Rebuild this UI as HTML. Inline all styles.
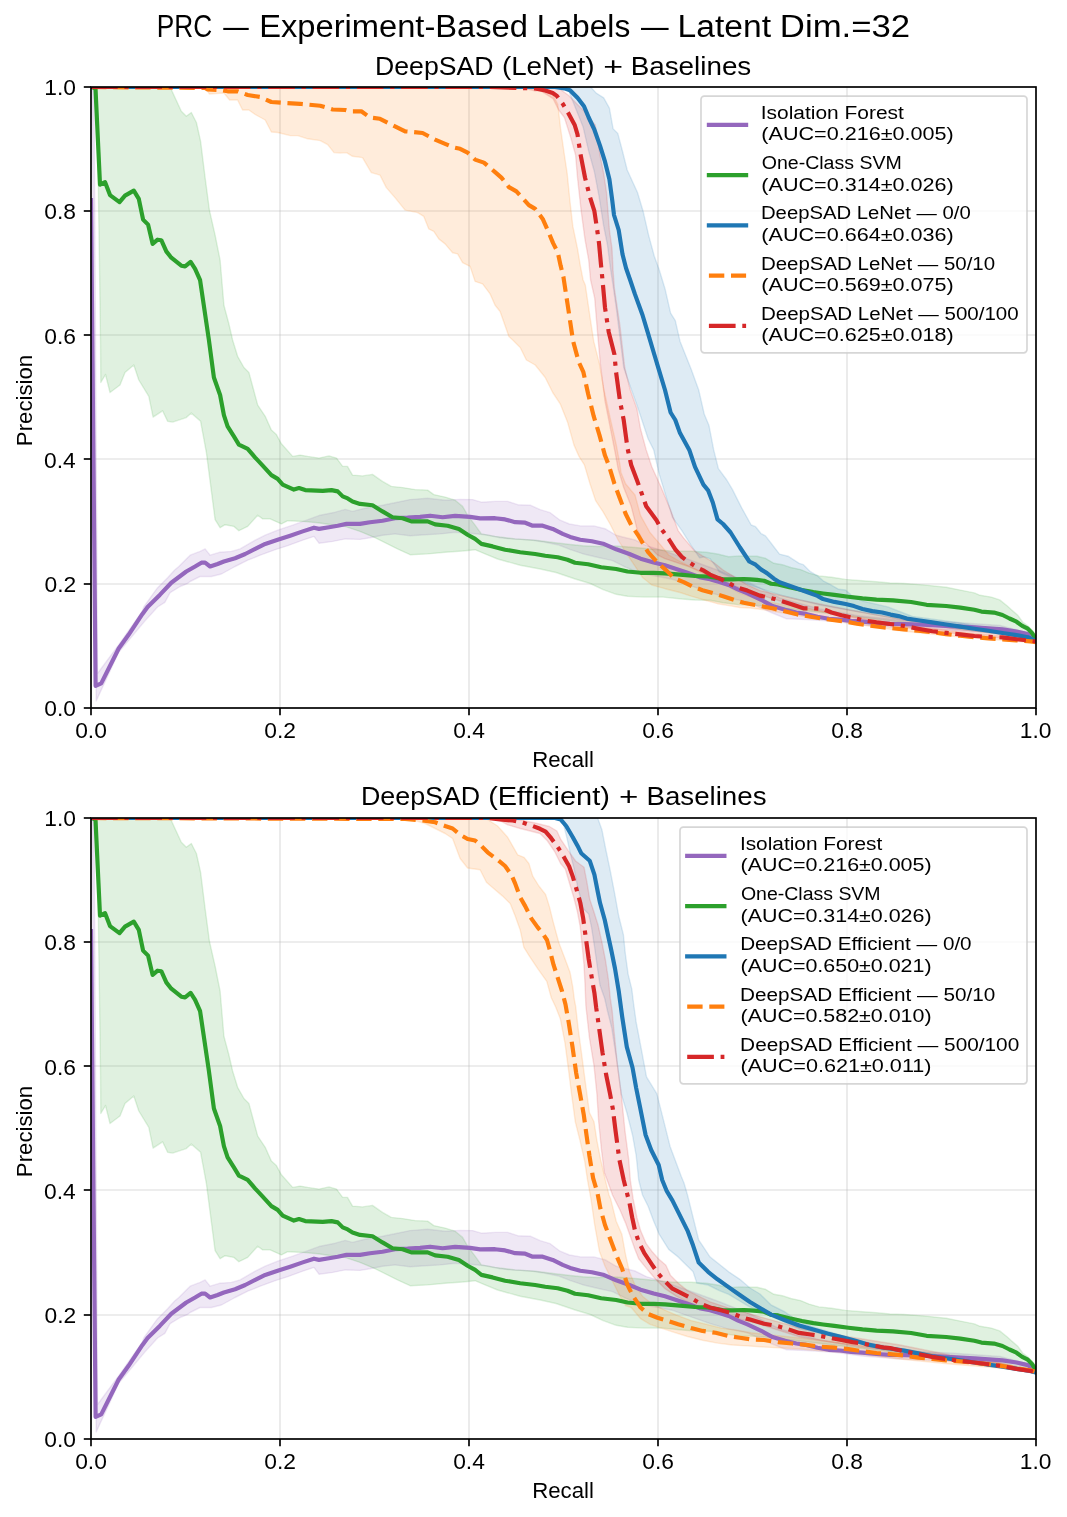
<!DOCTYPE html>
<html><head><meta charset="utf-8"><title>PRC</title>
<style>html,body{margin:0;padding:0;background:#fff;}svg{display:block;will-change:transform;}</style>
</head><body>
<svg width="1067" height="1517" viewBox="0 0 1067 1517" font-family='"Liberation Sans", sans-serif' fill="#000">
<text x="156.80" y="36.90" font-size="31" textLength="55.35" lengthAdjust="spacingAndGlyphs">PRC</text>
<text x="223.20" y="36.90" font-size="31" textLength="25.50" lengthAdjust="spacingAndGlyphs">—</text>
<text x="259.19" y="36.90" font-size="31" textLength="268.78" lengthAdjust="spacingAndGlyphs">Experiment-Based</text>
<text x="536.86" y="36.90" font-size="31" textLength="93.40" lengthAdjust="spacingAndGlyphs">Labels</text>
<text x="640.90" y="36.90" font-size="31" textLength="27.60" lengthAdjust="spacingAndGlyphs">—</text>
<text x="677.61" y="36.90" font-size="31" textLength="93.36" lengthAdjust="spacingAndGlyphs">Latent</text>
<text x="779.82" y="36.90" font-size="31" textLength="130.37" lengthAdjust="spacingAndGlyphs">Dim.=32</text>
<text x="375.07" y="74.80" font-size="25" textLength="118.48" lengthAdjust="spacingAndGlyphs">DeepSAD</text>
<text x="501.93" y="74.80" font-size="25" textLength="92.56" lengthAdjust="spacingAndGlyphs">(LeNet)</text>
<text x="603.30" y="74.80" font-size="25" textLength="19.87" lengthAdjust="spacingAndGlyphs">+</text>
<text x="630.67" y="74.80" font-size="25" textLength="120.63" lengthAdjust="spacingAndGlyphs">Baselines</text>
<text x="360.95" y="804.80" font-size="25" textLength="119.31" lengthAdjust="spacingAndGlyphs">DeepSAD</text>
<text x="488.16" y="804.80" font-size="25" textLength="121.73" lengthAdjust="spacingAndGlyphs">(Efficient)</text>
<text x="619.14" y="804.80" font-size="25" textLength="19.39" lengthAdjust="spacingAndGlyphs">+</text>
<text x="646.49" y="804.80" font-size="25" textLength="120.01" lengthAdjust="spacingAndGlyphs">Baselines</text>
<clipPath id="clip0"><rect x="91.0" y="87.0" width="945.0" height="621.0"/></clipPath>
<g stroke="#b0b0b0" stroke-opacity="0.3" stroke-width="1.67"><line x1="91.00" y1="87.0" x2="91.00" y2="708.0"/><line x1="91.0" y1="708.00" x2="1036.0" y2="708.00"/><line x1="280.00" y1="87.0" x2="280.00" y2="708.0"/><line x1="91.0" y1="584.00" x2="1036.0" y2="584.00"/><line x1="469.00" y1="87.0" x2="469.00" y2="708.0"/><line x1="91.0" y1="459.00" x2="1036.0" y2="459.00"/><line x1="658.00" y1="87.0" x2="658.00" y2="708.0"/><line x1="91.0" y1="335.00" x2="1036.0" y2="335.00"/><line x1="847.00" y1="87.0" x2="847.00" y2="708.0"/><line x1="91.0" y1="211.00" x2="1036.0" y2="211.00"/><line x1="1036.00" y1="87.0" x2="1036.00" y2="708.0"/><line x1="91.0" y1="87.00" x2="1036.0" y2="87.00"/></g>
<g clip-path="url(#clip0)">
<path d="M91.0,87.0 L94.0,87.0 L97.5,673.5 L118.7,644.8 L142.3,611.1 L143.8,607.0 L153.6,593.1 L157.6,587.7 L167.6,577.7 L174.7,570.0 L178.8,566.5 L190.1,555.2 L200.1,551.4 L205.1,548.9 L210.1,555.2 L220.1,552.2 L231.4,551.4 L240.1,548.9 L255.2,540.2 L265.2,535.2 L277.7,530.2 L292.7,525.2 L305.2,520.7 L320.2,515.2 L335.2,512.2 L345.2,509.4 L352.5,511.4 L365.0,508.2 L382.5,505.2 L395.0,502.7 L410.1,499.6 L427.6,498.2 L445.1,500.2 L460.1,499.4 L472.6,499.6 L481.4,502.2 L495.1,501.4 L507.7,501.4 L517.7,504.7 L530.2,505.2 L540.2,509.7 L550.2,512.7 L560.1,520.2 L569.4,524.0 L580.6,525.9 L593.7,525.9 L605.0,528.7 L616.2,535.3 L623.7,537.2 L635.0,540.0 L646.2,545.6 L665.0,551.2 L690.0,560.0 L720.0,571.0 L750.0,583.0 L780.0,598.0 L820.0,609.0 L860.0,616.0 L900.0,620.0 L950.0,622.0 L1000.0,625.5 L1036.0,635.0 L1036.0,641.0 L1000.0,633.0 L950.0,630.0 L900.0,628.0 L862.5,625.0 L834.4,621.2 L806.2,619.5 L786.6,618.8 L771.1,612.5 L747.4,601.8 L728.7,598.1 L710.0,592.5 L691.2,585.9 L672.5,579.3 L657.5,576.5 L642.5,573.7 L625.6,567.2 L612.5,560.6 L596.3,557.0 L582.6,553.7 L569.8,549.3 L558.8,545.0 L545.2,542.2 L532.7,540.2 L520.2,539.4 L510.2,538.9 L500.1,537.7 L485.1,534.7 L470.1,533.2 L455.1,532.2 L440.1,533.9 L425.1,534.7 L410.1,535.7 L395.0,533.9 L382.5,535.2 L370.0,537.7 L360.0,539.4 L345.2,538.9 L332.7,541.4 L319.0,543.2 L314.0,536.4 L302.7,540.2 L287.7,545.7 L275.2,549.7 L260.2,555.2 L247.7,560.2 L235.1,566.5 L221.4,574.0 L211.4,576.5 L200.1,576.5 L190.1,581.5 L187.2,583.7 L180.1,586.5 L170.1,592.7 L164.8,602.4 L157.6,607.0 L144.8,621.1 L118.7,652.3 L96.2,700.9 L92.0,87.0 L91.0,87.0 Z" fill="#9467bd" fill-opacity="0.15" stroke="#9467bd" stroke-opacity="0.15" stroke-width="1.4" stroke-linejoin="round"/>
<path d="M91.0,87.0 L170.1,87.0 L181.3,111.3 L186.3,116.3 L191.3,112.5 L196.4,122.5 L200.6,141.3 L205.1,177.6 L209.4,210.1 L215.1,235.1 L220.1,260.2 L223.9,305.2 L228.9,324.0 L232.6,340.0 L237.6,356.3 L243.9,367.5 L248.9,372.5 L257.7,405.1 L265.2,416.3 L271.4,430.1 L276.4,434.6 L281.4,443.8 L292.7,456.4 L300.2,455.1 L307.7,456.4 L319.0,458.1 L329.0,455.9 L336.5,458.1 L342.7,466.4 L347.5,466.4 L352.5,475.1 L362.5,475.9 L372.5,474.4 L382.5,481.4 L391.3,486.4 L402.6,487.6 L415.1,489.6 L427.6,490.1 L433.8,494.6 L445.1,497.1 L455.1,500.2 L462.6,506.4 L467.6,515.2 L475.1,525.2 L481.4,533.9 L495.1,536.4 L515.2,538.9 L535.2,540.2 L555.2,542.7 L570.2,544.5 L582.7,545.8 L597.5,546.5 L616.2,546.0 L635.0,547.5 L653.7,549.3 L672.5,551.2 L691.2,551.2 L706.2,552.2 L717.5,554.0 L728.7,556.8 L739.9,555.9 L750.0,556.2 L757.0,556.2 L765.5,558.3 L773.9,563.3 L782.3,564.7 L790.8,567.5 L800.6,569.6 L809.0,573.1 L818.9,575.9 L831.5,577.3 L845.6,579.4 L862.5,580.8 L876.5,581.8 L890.0,583.0 L904.1,583.5 L925.1,585.1 L946.2,587.3 L960.3,590.1 L974.4,592.9 L980.0,595.3 L991.2,597.1 L999.7,599.9 L1006.7,605.5 L1012.3,610.5 L1017.9,615.4 L1022.9,622.4 L1027.8,625.9 L1032.0,630.1 L1036.0,637.0 L1036.0,641.0 L1000.0,634.0 L950.0,628.0 L900.0,622.0 L850.0,616.0 L800.0,610.0 L760.0,605.6 L738.1,604.6 L723.1,602.8 L710.0,600.3 L695.0,600.0 L681.8,599.0 L663.1,597.1 L644.3,597.1 L627.5,596.2 L616.2,594.3 L603.1,589.6 L590.2,583.5 L575.2,579.0 L556.0,572.5 L540.2,569.0 L520.2,565.2 L497.6,559.0 L485.1,553.9 L475.1,549.7 L462.6,551.0 L445.1,552.2 L427.6,553.9 L410.1,554.7 L397.5,548.9 L387.5,543.9 L375.0,537.7 L360.0,531.4 L345.0,526.4 L335.2,525.2 L317.7,522.7 L302.7,521.4 L287.7,520.7 L281.4,523.9 L270.2,518.9 L262.7,518.9 L257.7,515.2 L247.7,526.4 L238.9,530.7 L233.9,526.4 L225.1,524.7 L220.1,527.7 L215.1,519.7 L206.4,452.6 L200.6,421.3 L191.3,413.1 L186.3,417.6 L172.6,422.1 L167.6,421.3 L162.6,410.8 L153.1,417.1 L148.8,396.3 L138.8,380.0 L133.8,365.0 L125.0,372.5 L120.0,385.0 L110.0,392.5 L105.5,374.5 L100.8,382.5 L100.5,340.0 L97.0,88.0 L91.0,87.0 Z" fill="#2ca02c" fill-opacity="0.15" stroke="#2ca02c" stroke-opacity="0.15" stroke-width="1.4" stroke-linejoin="round"/>
<path d="M91.0,87.0 L590.6,87.0 L596.2,93.1 L603.7,97.8 L609.4,108.1 L613.1,128.7 L617.8,133.4 L622.5,151.2 L627.2,170.0 L637.5,192.5 L643.1,211.2 L648.7,235.6 L654.3,256.2 L659.3,270.0 L665.0,288.7 L670.6,313.1 L675.3,320.6 L680.0,341.2 L691.2,369.3 L698.7,390.0 L704.3,414.3 L709.0,425.6 L713.7,449.9 L718.4,468.7 L726.8,480.0 L732.4,489.4 L741.8,508.1 L751.2,525.0 L755.6,526.7 L761.2,533.7 L765.5,535.9 L772.5,545.0 L779.5,554.1 L788.0,556.2 L799.2,563.3 L803.4,564.7 L810.5,571.7 L817.5,575.9 L823.1,580.8 L830.1,584.4 L838.6,589.3 L845.6,590.0 L851.2,595.0 L862.5,601.0 L887.8,606.9 L912.5,616.5 L935.0,619.5 L960.0,623.0 L1000.0,630.0 L1036.0,639.0 L1036.0,643.0 L1000.0,633.0 L950.0,626.0 L900.0,619.0 L860.0,612.0 L820.0,605.0 L780.0,595.0 L750.0,585.0 L725.0,574.6 L719.3,571.8 L715.6,566.2 L710.0,558.7 L704.3,556.8 L699.6,557.8 L691.2,545.6 L681.8,530.6 L672.5,517.5 L665.0,493.1 L659.3,474.4 L653.7,449.9 L648.1,438.7 L636.9,405.0 L627.5,378.7 L623.7,367.5 L616.2,307.5 L613.0,285.0 L610.3,267.4 L607.5,245.0 L603.7,226.2 L599.0,196.2 L594.4,171.8 L588.7,151.2 L583.1,126.9 L568.1,89.4 L555.0,87.0 L91.0,87.0 Z" fill="#1f77b4" fill-opacity="0.15" stroke="#1f77b4" stroke-opacity="0.15" stroke-width="1.4" stroke-linejoin="round"/>
<path d="M91.0,87.0 L525.2,87.0 L545.2,90.0 L553.0,95.0 L557.8,104.4 L560.6,128.7 L564.4,155.0 L567.2,173.7 L570.0,201.8 L572.8,226.2 L577.5,248.7 L580.3,265.6 L583.1,280.0 L585.3,285.0 L590.0,316.9 L593.7,341.2 L599.4,363.7 L604.0,390.0 L610.6,420.0 L616.2,444.3 L620.0,464.9 L621.0,472.5 L625.6,483.7 L635.0,495.0 L640.6,515.6 L650.0,532.5 L661.2,545.6 L668.7,555.0 L681.8,562.5 L700.6,571.8 L719.3,581.2 L738.1,592.5 L760.0,600.0 L800.0,608.0 L850.0,616.0 L900.0,624.0 L950.0,631.0 L1000.0,636.0 L1036.0,641.0 L1036.0,643.0 L1000.0,640.0 L950.0,636.0 L900.0,630.7 L850.0,623.0 L800.0,616.0 L764.1,609.7 L750.0,608.0 L739.9,607.5 L728.7,605.6 L717.5,603.7 L704.3,600.0 L691.2,596.2 L680.0,592.5 L665.0,588.7 L651.8,585.0 L642.5,577.5 L635.0,566.2 L627.5,555.0 L618.1,540.0 L610.6,525.0 L603.1,511.9 L595.6,500.6 L590.0,483.7 L584.4,464.9 L579.0,456.4 L574.0,445.1 L567.7,422.6 L560.2,403.8 L552.7,392.5 L545.2,377.5 L535.2,365.0 L526.4,360.0 L520.2,347.5 L512.7,340.0 L508.9,336.5 L500.1,311.5 L495.1,305.2 L490.1,293.9 L482.6,283.9 L475.1,281.4 L470.1,266.4 L462.6,262.7 L457.6,253.9 L452.6,252.7 L445.1,243.9 L438.8,238.9 L433.8,231.4 L428.8,228.9 L423.8,216.4 L417.6,212.6 L405.1,210.1 L395.0,197.6 L386.3,187.6 L380.0,175.1 L371.3,172.6 L362.5,157.6 L352.5,156.3 L346.5,152.6 L340.2,153.1 L334.0,152.6 L327.7,144.6 L320.2,140.6 L307.7,138.8 L297.7,135.6 L290.2,135.6 L277.7,132.5 L271.4,132.0 L265.2,120.0 L255.2,114.5 L248.9,110.0 L242.6,110.0 L237.6,100.0 L229.6,100.0 L223.9,93.0 L209.3,94.0 L205.1,87.0 L91.0,87.0 Z" fill="#ff7f0e" fill-opacity="0.15" stroke="#ff7f0e" stroke-opacity="0.15" stroke-width="1.4" stroke-linejoin="round"/>
<path d="M91.0,87.0 L556.9,87.0 L568.1,95.0 L577.5,104.4 L585.0,111.9 L590.6,119.4 L595.3,125.0 L600.0,155.0 L603.7,173.7 L606.5,192.5 L609.4,230.0 L612.0,248.7 L613.0,270.0 L614.4,288.7 L620.0,326.2 L624.7,367.5 L630.3,390.0 L636.9,408.7 L640.6,429.3 L646.2,449.9 L651.8,466.8 L661.2,487.5 L670.6,510.0 L678.1,530.6 L683.7,538.1 L695.0,551.2 L702.5,555.9 L713.7,562.5 L723.1,570.0 L732.4,575.6 L747.4,585.0 L760.0,590.6 L800.0,600.0 L850.0,610.0 L900.0,619.0 L950.0,628.0 L1000.0,634.0 L1036.0,640.0 L1036.0,642.0 L1000.0,638.0 L950.0,633.0 L900.0,626.0 L850.0,617.0 L800.0,607.0 L750.0,592.0 L720.0,580.0 L690.0,567.0 L665.0,558.7 L657.5,555.0 L650.0,547.5 L642.5,540.0 L636.9,528.7 L631.2,506.2 L623.7,487.5 L618.1,468.7 L615.0,451.8 L610.6,429.3 L605.0,401.2 L600.3,363.7 L597.5,331.9 L594.7,298.1 L590.6,280.0 L588.7,259.9 L585.0,239.3 L581.2,211.2 L577.5,177.5 L575.6,155.0 L570.9,138.1 L564.4,117.5 L558.7,110.0 L553.1,98.7 L540.0,90.3 L535.2,91.0 L520.2,87.0 L91.0,87.0 Z" fill="#d62728" fill-opacity="0.15" stroke="#d62728" stroke-opacity="0.15" stroke-width="1.4" stroke-linejoin="round"/>
<path d="M91.0,200.0 L95.6,685.9 L101.2,683.4 L118.7,648.5 L128.6,634.8 L142.3,614.2 L147.6,607.0 L159.8,594.9 L171.3,582.7 L176.3,579.0 L186.3,571.5 L195.1,566.5 L201.4,562.7 L205.1,562.7 L210.1,566.5 L217.6,564.0 L223.9,561.5 L235.1,558.2 L245.2,554.0 L255.2,548.9 L265.2,543.9 L277.7,539.7 L290.2,535.7 L302.7,531.4 L314.0,527.7 L319.0,528.9 L329.0,527.2 L337.7,525.7 L346.5,523.9 L360.0,523.9 L370.0,522.2 L382.5,520.7 L395.0,518.2 L407.6,517.7 L420.1,516.9 L430.1,515.7 L442.6,517.2 L455.1,515.9 L470.1,516.9 L480.1,518.4 L495.1,518.2 L505.1,519.4 L515.2,522.2 L525.2,522.7 L532.7,525.7 L542.7,525.7 L552.7,528.9 L562.7,533.9 L570.2,536.9 L580.2,539.7 L591.9,541.3 L603.1,543.7 L616.2,549.3 L629.4,554.0 L640.6,558.7 L653.7,562.5 L665.0,565.3 L676.2,569.0 L687.5,572.8 L700.6,577.5 L710.0,579.3 L719.3,582.1 L728.7,585.0 L738.1,589.6 L747.4,593.4 L761.2,599.8 L772.5,606.1 L785.1,609.7 L796.4,612.5 L806.2,613.9 L817.5,616.7 L828.7,618.8 L840.0,619.5 L851.2,620.9 L862.5,621.6 L876.5,623.0 L890.0,623.8 L904.1,624.2 L918.1,624.5 L932.2,625.2 L946.2,625.9 L960.3,626.6 L974.4,627.3 L988.4,628.4 L1002.5,629.4 L1016.5,631.5 L1027.8,634.1 L1036.0,639.0" fill="none" stroke="#9467bd" stroke-width="4.17" stroke-linejoin="round" stroke-linecap="square"/>
<path d="M92.0,87.0 L95.5,88.8 L100.0,184.6 L105.0,182.1 L110.0,195.1 L119.5,202.1 L125.0,195.6 L133.8,190.6 L138.8,198.9 L143.1,219.6 L148.1,224.6 L152.6,243.9 L157.6,239.7 L161.3,240.2 L166.3,251.4 L171.3,257.7 L181.3,265.7 L185.1,266.4 L190.6,261.9 L195.1,268.9 L200.1,280.2 L208.9,340.0 L213.9,377.5 L220.1,395.0 L223.9,415.1 L227.6,426.3 L233.9,436.3 L238.9,444.6 L247.7,448.9 L255.2,457.6 L262.7,465.6 L271.4,475.1 L277.7,478.9 L282.7,484.6 L293.9,489.6 L299.0,488.1 L305.2,490.1 L322.7,490.9 L331.5,490.1 L337.7,491.4 L342.7,496.4 L347.7,498.4 L352.5,501.4 L360.0,503.9 L372.5,505.2 L382.5,511.4 L392.5,517.2 L402.6,518.2 L411.3,521.4 L427.6,521.4 L435.1,524.4 L447.6,525.7 L458.9,528.9 L467.6,534.7 L475.1,538.9 L481.4,543.9 L492.6,546.4 L505.1,549.7 L520.2,552.2 L535.2,554.0 L545.2,555.7 L557.7,557.2 L567.5,559.7 L575.0,562.8 L588.1,564.3 L601.2,567.2 L616.2,569.0 L627.5,571.5 L640.6,572.8 L653.7,572.8 L665.0,573.3 L680.0,574.6 L695.0,576.0 L708.1,576.5 L715.6,577.8 L723.1,579.3 L732.4,579.3 L743.7,579.0 L750.0,579.4 L757.0,579.9 L764.1,580.8 L771.1,583.7 L778.1,584.4 L789.4,587.2 L802.0,590.0 L813.3,592.1 L823.1,593.5 L834.4,594.9 L848.4,596.7 L862.5,598.4 L876.5,599.6 L893.0,600.4 L911.1,602.0 L926.6,604.8 L946.2,606.0 L960.3,607.6 L974.4,609.8 L981.4,611.6 L994.0,612.6 L1002.5,615.0 L1009.5,618.5 L1016.5,621.7 L1022.2,625.9 L1027.8,628.7 L1032.0,632.9 L1036.0,639.5" fill="none" stroke="#2ca02c" stroke-width="4.17" stroke-linejoin="round" stroke-linecap="square"/>
<path d="M91.0,87.0 L555.0,87.0 L564.4,88.4 L570.0,90.3 L577.5,97.8 L584.0,106.2 L588.7,117.5 L594.4,129.7 L600.0,145.6 L604.7,160.6 L609.4,179.3 L612.2,200.0 L614.0,215.0 L618.7,230.0 L622.5,254.3 L626.0,268.0 L630.5,281.0 L635.0,294.4 L642.5,315.0 L648.1,333.7 L653.7,352.5 L659.3,371.2 L665.0,390.0 L670.6,412.5 L675.3,420.0 L680.0,433.1 L689.3,449.9 L695.0,466.9 L703.4,484.7 L708.1,490.3 L712.8,502.5 L717.5,519.4 L723.1,524.0 L730.6,532.5 L740.0,547.5 L749.3,561.5 L755.6,564.7 L761.2,569.6 L766.9,573.1 L773.9,578.7 L779.5,582.2 L789.4,585.8 L799.2,589.3 L809.0,592.8 L817.5,595.9 L823.1,599.1 L834.4,601.9 L845.6,604.0 L854.0,606.1 L862.5,609.0 L872.3,611.1 L882.2,612.5 L890.6,614.6 L898.4,616.1 L906.9,618.6 L918.1,620.3 L932.2,622.4 L946.2,624.5 L960.3,626.6 L974.4,628.7 L988.4,630.8 L1002.5,633.0 L1016.5,635.1 L1027.8,637.2 L1036.0,641.0" fill="none" stroke="#1f77b4" stroke-width="4.17" stroke-linejoin="round" stroke-linecap="square"/>
<path d="M91.0,87.0 L205.1,88.0 L207.6,89.5 L220.1,90.0 L227.6,91.3 L237.6,91.3 L247.7,95.0 L260.2,97.0 L271.4,102.0 L285.2,103.0 L300.2,103.8 L320.2,105.8 L332.7,109.5 L345.2,110.0 L350.0,111.3 L361.3,111.3 L370.0,117.5 L380.0,118.8 L395.0,126.3 L405.1,131.3 L422.6,133.0 L435.1,139.6 L445.1,143.8 L452.6,147.1 L460.1,148.8 L467.6,152.6 L475.1,159.6 L483.9,162.6 L495.1,172.1 L501.4,177.6 L508.9,187.1 L516.4,191.4 L528.9,205.1 L535.2,208.9 L542.7,218.9 L547.7,230.1 L553.1,243.1 L557.8,252.4 L560.6,265.6 L563.4,276.8 L567.5,303.7 L573.1,341.2 L578.7,361.8 L583.4,372.2 L588.1,393.7 L593.7,416.2 L599.4,434.9 L605.0,455.6 L608.7,465.0 L614.4,483.7 L620.0,498.7 L625.6,513.7 L631.2,525.0 L638.7,536.2 L648.1,552.2 L657.5,562.5 L666.8,570.9 L674.3,578.4 L683.7,582.1 L693.1,586.8 L702.5,590.2 L713.7,593.4 L723.1,596.2 L734.3,600.0 L743.7,602.8 L750.0,604.0 L761.2,606.1 L772.5,608.3 L783.7,611.1 L797.8,614.6 L810.5,616.7 L823.1,618.8 L834.4,620.2 L845.6,621.6 L856.8,623.7 L869.5,625.5 L882.2,627.2 L890.0,628.0 L904.1,629.4 L918.1,630.8 L932.2,632.2 L946.2,634.1 L960.3,635.8 L974.4,637.2 L988.4,638.3 L1002.5,639.3 L1016.5,640.3 L1030.6,641.4 L1036.0,642.1" fill="none" stroke="#ff7f0e" stroke-width="4.17" stroke-linejoin="round" stroke-linecap="butt" stroke-dasharray="15.4 6.7"/>
<path d="M91.0,87.0 L490.0,87.0 L535.2,88.5 L545.2,90.5 L552.7,93.0 L556.9,95.9 L562.5,103.4 L568.1,112.8 L574.7,125.0 L577.5,134.4 L580.3,153.1 L585.0,177.5 L589.7,196.2 L594.4,211.2 L597.2,230.0 L599.0,243.1 L600.9,263.7 L602.5,280.0 L605.0,307.5 L608.7,331.9 L614.4,354.3 L616.2,373.1 L620.0,401.2 L623.7,420.0 L627.5,448.1 L631.2,465.0 L636.9,480.0 L640.6,490.3 L646.2,506.2 L656.5,520.3 L661.2,528.7 L668.7,539.0 L675.3,549.3 L681.8,556.8 L689.3,562.5 L696.8,567.2 L704.3,570.9 L710.0,574.6 L719.3,578.4 L728.7,583.1 L738.1,587.8 L747.4,590.6 L759.8,595.6 L769.7,597.7 L779.5,600.5 L790.8,604.0 L803.4,608.3 L813.3,608.3 L823.1,609.0 L831.5,612.5 L841.4,615.3 L851.2,617.4 L862.5,620.2 L876.5,622.3 L887.8,623.7 L904.1,625.9 L918.1,628.7 L932.2,631.3 L946.2,632.9 L960.3,634.4 L974.4,636.0 L988.4,636.9 L1002.5,637.4 L1016.5,639.3 L1030.6,640.7 L1036.0,641.5" fill="none" stroke="#d62728" stroke-width="4.17" stroke-linejoin="round" stroke-linecap="butt" stroke-dasharray="26.7 6.7 4.2 6.7"/>
</g>
<rect x="91.0" y="87.0" width="945.0" height="621.0" fill="none" stroke="#000" stroke-width="1.67" stroke-linejoin="miter"/>
<g stroke="#000" stroke-width="1.67"><line x1="91.00" y1="708.0" x2="91.00" y2="715.2"/><line x1="83.8" y1="708.00" x2="91.0" y2="708.00"/><line x1="280.00" y1="708.0" x2="280.00" y2="715.2"/><line x1="83.8" y1="584.00" x2="91.0" y2="584.00"/><line x1="469.00" y1="708.0" x2="469.00" y2="715.2"/><line x1="83.8" y1="459.00" x2="91.0" y2="459.00"/><line x1="658.00" y1="708.0" x2="658.00" y2="715.2"/><line x1="83.8" y1="335.00" x2="91.0" y2="335.00"/><line x1="847.00" y1="708.0" x2="847.00" y2="715.2"/><line x1="83.8" y1="211.00" x2="91.0" y2="211.00"/><line x1="1036.00" y1="708.0" x2="1036.00" y2="715.2"/><line x1="83.8" y1="87.00" x2="91.0" y2="87.00"/></g>
<text x="75.20" y="738.20" font-size="22.8" textLength="31.70" lengthAdjust="spacingAndGlyphs">0.0</text>
<text x="44.21" y="716.10" font-size="22.8" textLength="31.70" lengthAdjust="spacingAndGlyphs">0.0</text>
<text x="264.37" y="738.20" font-size="22.8" textLength="31.70" lengthAdjust="spacingAndGlyphs">0.2</text>
<text x="44.55" y="591.90" font-size="22.8" textLength="31.70" lengthAdjust="spacingAndGlyphs">0.2</text>
<text x="453.14" y="738.20" font-size="22.8" textLength="31.70" lengthAdjust="spacingAndGlyphs">0.4</text>
<text x="44.09" y="467.70" font-size="22.8" textLength="31.70" lengthAdjust="spacingAndGlyphs">0.4</text>
<text x="642.25" y="738.20" font-size="22.8" textLength="31.70" lengthAdjust="spacingAndGlyphs">0.6</text>
<text x="44.32" y="343.50" font-size="22.8" textLength="31.70" lengthAdjust="spacingAndGlyphs">0.6</text>
<text x="831.25" y="738.20" font-size="22.8" textLength="31.70" lengthAdjust="spacingAndGlyphs">0.8</text>
<text x="44.32" y="219.30" font-size="22.8" textLength="31.70" lengthAdjust="spacingAndGlyphs">0.8</text>
<text x="1019.80" y="738.20" font-size="22.8" textLength="31.70" lengthAdjust="spacingAndGlyphs">1.0</text>
<text x="44.21" y="95.10" font-size="22.8" textLength="31.70" lengthAdjust="spacingAndGlyphs">1.0</text>
<text x="563.0" y="767.0" font-size="22.2" text-anchor="middle">Recall</text>
<text x="0" y="0" font-size="22.2" text-anchor="middle" transform="translate(31.8 400.5) rotate(-90)">Precision</text>
<clipPath id="clip1"><rect x="91.0" y="818.0" width="945.0" height="621.0"/></clipPath>
<g stroke="#b0b0b0" stroke-opacity="0.3" stroke-width="1.67"><line x1="91.00" y1="818.0" x2="91.00" y2="1439.0"/><line x1="91.0" y1="1439.00" x2="1036.0" y2="1439.00"/><line x1="280.00" y1="818.0" x2="280.00" y2="1439.0"/><line x1="91.0" y1="1315.00" x2="1036.0" y2="1315.00"/><line x1="469.00" y1="818.0" x2="469.00" y2="1439.0"/><line x1="91.0" y1="1190.00" x2="1036.0" y2="1190.00"/><line x1="658.00" y1="818.0" x2="658.00" y2="1439.0"/><line x1="91.0" y1="1066.00" x2="1036.0" y2="1066.00"/><line x1="847.00" y1="818.0" x2="847.00" y2="1439.0"/><line x1="91.0" y1="942.00" x2="1036.0" y2="942.00"/><line x1="1036.00" y1="818.0" x2="1036.00" y2="1439.0"/><line x1="91.0" y1="818.00" x2="1036.0" y2="818.00"/></g>
<g clip-path="url(#clip1)">
<path d="M91.0,818.0 L94.0,818.0 L97.5,1404.5 L118.7,1375.8 L142.3,1342.1 L143.8,1338.0 L153.6,1324.1 L157.6,1318.7 L167.6,1308.7 L174.7,1301.0 L178.8,1297.5 L190.1,1286.2 L200.1,1282.4 L205.1,1279.9 L210.1,1286.2 L220.1,1283.2 L231.4,1282.4 L240.1,1279.9 L255.2,1271.2 L265.2,1266.2 L277.7,1261.2 L292.7,1256.2 L305.2,1251.7 L320.2,1246.2 L335.2,1243.2 L345.2,1240.4 L352.5,1242.4 L365.0,1239.2 L382.5,1236.2 L395.0,1233.7 L410.1,1230.6 L427.6,1229.2 L445.1,1231.2 L460.1,1230.4 L472.6,1230.6 L481.4,1233.2 L495.1,1232.4 L507.7,1232.4 L517.7,1235.7 L530.2,1236.2 L540.2,1240.7 L550.2,1243.7 L560.1,1251.2 L569.4,1255.0 L580.6,1256.9 L593.7,1256.9 L605.0,1259.7 L616.2,1266.3 L623.7,1268.2 L635.0,1271.0 L646.2,1276.6 L665.0,1282.2 L690.0,1291.0 L720.0,1302.0 L750.0,1314.0 L780.0,1329.0 L820.0,1340.0 L860.0,1347.0 L900.0,1351.0 L950.0,1353.0 L1000.0,1356.5 L1036.0,1366.0 L1036.0,1372.0 L1000.0,1364.0 L950.0,1361.0 L900.0,1359.0 L862.5,1356.0 L834.4,1352.2 L806.2,1350.5 L786.6,1349.8 L771.1,1343.5 L747.4,1332.8 L728.7,1329.1 L710.0,1323.5 L691.2,1316.9 L672.5,1310.3 L657.5,1307.5 L642.5,1304.7 L625.6,1298.2 L612.5,1291.6 L596.3,1288.0 L582.6,1284.7 L569.8,1280.3 L558.8,1276.0 L545.2,1273.2 L532.7,1271.2 L520.2,1270.4 L510.2,1269.9 L500.1,1268.7 L485.1,1265.7 L470.1,1264.2 L455.1,1263.2 L440.1,1264.9 L425.1,1265.7 L410.1,1266.7 L395.0,1264.9 L382.5,1266.2 L370.0,1268.7 L360.0,1270.4 L345.2,1269.9 L332.7,1272.4 L319.0,1274.2 L314.0,1267.4 L302.7,1271.2 L287.7,1276.7 L275.2,1280.7 L260.2,1286.2 L247.7,1291.2 L235.1,1297.5 L221.4,1305.0 L211.4,1307.5 L200.1,1307.5 L190.1,1312.5 L187.2,1314.7 L180.1,1317.5 L170.1,1323.7 L164.8,1333.4 L157.6,1338.0 L144.8,1352.1 L118.7,1383.3 L96.2,1431.9 L92.0,818.0 L91.0,818.0 Z" fill="#9467bd" fill-opacity="0.15" stroke="#9467bd" stroke-opacity="0.15" stroke-width="1.4" stroke-linejoin="round"/>
<path d="M91.0,818.0 L170.1,818.0 L181.3,842.3 L186.3,847.3 L191.3,843.5 L196.4,853.5 L200.6,872.3 L205.1,908.6 L209.4,941.1 L215.1,966.1 L220.1,991.2 L223.9,1036.2 L228.9,1055.0 L232.6,1071.0 L237.6,1087.3 L243.9,1098.5 L248.9,1103.5 L257.7,1136.1 L265.2,1147.3 L271.4,1161.1 L276.4,1165.6 L281.4,1174.8 L292.7,1187.4 L300.2,1186.1 L307.7,1187.4 L319.0,1189.1 L329.0,1186.9 L336.5,1189.1 L342.7,1197.4 L347.5,1197.4 L352.5,1206.1 L362.5,1206.9 L372.5,1205.4 L382.5,1212.4 L391.3,1217.4 L402.6,1218.6 L415.1,1220.6 L427.6,1221.1 L433.8,1225.6 L445.1,1228.1 L455.1,1231.2 L462.6,1237.4 L467.6,1246.2 L475.1,1256.2 L481.4,1264.9 L495.1,1267.4 L515.2,1269.9 L535.2,1271.2 L555.2,1273.7 L570.2,1275.5 L582.7,1276.8 L597.5,1277.5 L616.2,1277.0 L635.0,1278.5 L653.7,1280.3 L672.5,1282.2 L691.2,1282.2 L706.2,1283.2 L717.5,1285.0 L728.7,1287.8 L739.9,1286.9 L750.0,1287.2 L757.0,1287.2 L765.5,1289.3 L773.9,1294.3 L782.3,1295.7 L790.8,1298.5 L800.6,1300.6 L809.0,1304.1 L818.9,1306.9 L831.5,1308.3 L845.6,1310.4 L862.5,1311.8 L876.5,1312.8 L890.0,1314.0 L904.1,1314.5 L925.1,1316.1 L946.2,1318.3 L960.3,1321.1 L974.4,1323.9 L980.0,1326.3 L991.2,1328.1 L999.7,1330.9 L1006.7,1336.5 L1012.3,1341.5 L1017.9,1346.4 L1022.9,1353.4 L1027.8,1356.9 L1032.0,1361.1 L1036.0,1368.0 L1036.0,1372.0 L1000.0,1365.0 L950.0,1359.0 L900.0,1353.0 L850.0,1347.0 L800.0,1341.0 L760.0,1336.6 L738.1,1335.6 L723.1,1333.8 L710.0,1331.3 L695.0,1331.0 L681.8,1330.0 L663.1,1328.1 L644.3,1328.1 L627.5,1327.2 L616.2,1325.3 L603.1,1320.6 L590.2,1314.5 L575.2,1310.0 L556.0,1303.5 L540.2,1300.0 L520.2,1296.2 L497.6,1290.0 L485.1,1284.9 L475.1,1280.7 L462.6,1282.0 L445.1,1283.2 L427.6,1284.9 L410.1,1285.7 L397.5,1279.9 L387.5,1274.9 L375.0,1268.7 L360.0,1262.4 L345.0,1257.4 L335.2,1256.2 L317.7,1253.7 L302.7,1252.4 L287.7,1251.7 L281.4,1254.9 L270.2,1249.9 L262.7,1249.9 L257.7,1246.2 L247.7,1257.4 L238.9,1261.7 L233.9,1257.4 L225.1,1255.7 L220.1,1258.7 L215.1,1250.7 L206.4,1183.6 L200.6,1152.3 L191.3,1144.1 L186.3,1148.6 L172.6,1153.1 L167.6,1152.3 L162.6,1141.8 L153.1,1148.1 L148.8,1127.3 L138.8,1111.0 L133.8,1096.0 L125.0,1103.5 L120.0,1116.0 L110.0,1123.5 L105.5,1105.5 L100.8,1113.5 L100.5,1071.0 L97.0,819.0 L91.0,818.0 Z" fill="#2ca02c" fill-opacity="0.15" stroke="#2ca02c" stroke-opacity="0.15" stroke-width="1.4" stroke-linejoin="round"/>
<path d="M91.0,818.0 L597.7,818.0 L601.9,829.7 L605.6,848.5 L610.3,871.0 L615.0,895.3 L618.7,916.0 L623.4,934.7 L625.3,953.5 L628.1,974.1 L631.8,989.1 L633.5,1003.0 L636.2,1022.5 L640.9,1046.9 L646.5,1076.9 L656.8,1093.7 L662.5,1116.2 L670.0,1146.2 L675.6,1161.2 L681.2,1176.2 L684.0,1183.0 L687.5,1195.0 L693.1,1217.5 L698.7,1240.0 L702.5,1245.6 L710.0,1256.9 L719.3,1264.3 L728.7,1271.8 L739.9,1279.3 L750.0,1288.0 L760.0,1294.0 L771.1,1305.0 L785.1,1312.0 L796.4,1320.0 L813.3,1327.0 L841.4,1335.5 L869.5,1343.0 L900.0,1348.5 L950.0,1356.5 L1000.0,1364.5 L1036.0,1371.0 L1036.0,1374.0 L1000.0,1366.0 L950.0,1359.0 L900.0,1351.0 L850.0,1339.0 L800.0,1329.0 L760.0,1311.2 L755.0,1309.3 L747.4,1305.6 L738.1,1300.0 L728.7,1294.3 L719.3,1290.6 L708.1,1285.0 L696.8,1283.1 L693.1,1271.8 L687.5,1266.2 L678.1,1256.9 L668.7,1249.4 L659.3,1234.4 L653.7,1221.2 L648.1,1206.2 L642.5,1195.0 L638.7,1180.0 L636.2,1155.6 L632.5,1135.0 L626.8,1112.5 L621.2,1093.7 L617.5,1065.6 L611.8,1028.1 L607.5,1011.0 L604.7,998.4 L600.0,985.3 L598.1,972.2 L594.4,946.0 L591.5,927.2 L588.7,914.1 L583.1,908.5 L577.5,886.0 L573.7,867.2 L570.0,852.2 L567.2,839.1 L564.4,827.9 L562.5,819.4 L555.0,818.0 L91.0,818.0 Z" fill="#1f77b4" fill-opacity="0.15" stroke="#1f77b4" stroke-opacity="0.15" stroke-width="1.4" stroke-linejoin="round"/>
<path d="M91.0,818.0 L485.1,818.0 L497.6,826.0 L507.7,837.3 L517.7,854.8 L523.9,857.3 L528.9,863.5 L532.7,876.1 L538.9,886.0 L545.6,894.5 L549.4,906.6 L553.1,921.6 L558.7,942.2 L564.4,957.2 L570.0,972.2 L572.8,987.2 L574.4,1000.0 L575.6,1005.9 L578.1,1028.1 L581.9,1056.2 L585.6,1084.3 L589.4,1112.5 L594.0,1121.8 L596.9,1140.6 L600.6,1159.3 L605.3,1179.9 L609.0,1194.9 L610.6,1198.7 L616.2,1221.2 L621.9,1234.4 L625.6,1255.0 L629.4,1271.8 L635.0,1285.0 L642.5,1296.2 L651.8,1303.7 L663.1,1309.3 L676.2,1315.0 L691.2,1320.6 L706.2,1324.3 L721.2,1328.1 L736.2,1330.0 L751.2,1332.8 L760.0,1333.7 L800.0,1338.0 L850.0,1344.0 L900.0,1350.0 L950.0,1356.0 L1000.0,1363.0 L1036.0,1370.5 L1036.0,1373.0 L1000.0,1368.0 L950.0,1364.0 L900.0,1359.0 L850.0,1353.0 L800.0,1349.0 L760.0,1346.8 L747.4,1345.9 L732.4,1345.0 L717.5,1343.1 L702.5,1340.3 L687.5,1336.5 L672.5,1331.8 L661.2,1328.1 L650.0,1324.3 L640.6,1318.7 L631.2,1307.5 L625.6,1305.6 L620.0,1296.2 L612.5,1281.2 L605.0,1266.2 L599.4,1251.2 L594.7,1225.0 L590.9,1198.7 L587.5,1179.9 L584.7,1161.2 L580.0,1140.6 L575.3,1121.8 L571.5,1093.7 L568.7,1071.2 L565.0,1043.1 L562.7,1031.2 L560.3,1018.7 L555.8,1007.3 L551.3,997.8 L546.8,981.4 L537.7,968.6 L530.2,957.4 L523.9,947.4 L520.2,929.9 L515.2,916.1 L510.2,903.6 L502.6,896.1 L495.1,889.8 L486.4,882.3 L480.1,869.8 L467.6,868.0 L460.1,858.5 L452.6,838.5 L445.1,833.5 L435.1,828.5 L425.1,823.5 L412.6,819.8 L405.0,818.0 L91.0,818.0 Z" fill="#ff7f0e" fill-opacity="0.15" stroke="#ff7f0e" stroke-opacity="0.15" stroke-width="1.4" stroke-linejoin="round"/>
<path d="M91.0,818.0 L505.1,818.0 L520.2,820.0 L535.2,823.0 L549.4,826.5 L556.9,831.0 L560.6,839.1 L568.1,850.4 L575.6,861.0 L584.0,867.2 L586.9,882.2 L589.7,899.1 L593.4,910.3 L598.1,925.3 L601.9,942.2 L605.6,961.0 L608.4,979.7 L610.3,998.4 L612.2,1011.0 L613.7,1028.1 L617.5,1065.6 L621.2,1093.7 L625.0,1131.2 L628.7,1159.3 L630.3,1180.0 L633.1,1198.7 L636.9,1217.5 L640.6,1230.6 L646.2,1243.7 L651.8,1251.2 L658.4,1258.7 L665.9,1265.3 L670.6,1275.6 L678.1,1283.1 L687.5,1290.6 L698.7,1296.2 L710.0,1301.8 L721.2,1305.6 L732.4,1309.3 L747.4,1313.1 L760.0,1316.8 L800.0,1328.0 L850.0,1337.0 L900.0,1345.0 L950.0,1355.0 L1000.0,1363.0 L1036.0,1371.0 L1036.0,1373.5 L1000.0,1367.0 L950.0,1361.0 L900.0,1352.0 L850.0,1345.0 L800.0,1337.0 L760.0,1324.3 L738.1,1318.7 L719.3,1313.1 L706.2,1309.3 L691.2,1303.7 L676.2,1296.2 L665.0,1288.7 L655.6,1279.3 L646.2,1268.1 L638.7,1258.7 L635.0,1249.4 L630.3,1236.2 L625.6,1223.1 L620.0,1210.0 L612.5,1195.0 L607.5,1181.0 L604.3,1172.4 L601.5,1150.0 L598.7,1121.8 L596.9,1093.7 L594.0,1065.6 L589.4,1037.5 L585.9,1006.0 L585.0,983.4 L584.0,964.7 L582.2,946.0 L580.3,927.2 L577.5,912.2 L573.7,897.2 L568.1,878.5 L565.3,869.1 L560.6,863.5 L555.0,852.2 L547.5,841.0 L540.0,833.5 L530.2,831.0 L520.2,828.5 L507.7,824.8 L495.1,818.0 L91.0,818.0 Z" fill="#d62728" fill-opacity="0.15" stroke="#d62728" stroke-opacity="0.15" stroke-width="1.4" stroke-linejoin="round"/>
<path d="M91.0,931.0 L95.6,1416.9 L101.2,1414.4 L118.7,1379.5 L128.6,1365.8 L142.3,1345.2 L147.6,1338.0 L159.8,1325.9 L171.3,1313.7 L176.3,1310.0 L186.3,1302.5 L195.1,1297.5 L201.4,1293.7 L205.1,1293.7 L210.1,1297.5 L217.6,1295.0 L223.9,1292.5 L235.1,1289.2 L245.2,1285.0 L255.2,1279.9 L265.2,1274.9 L277.7,1270.7 L290.2,1266.7 L302.7,1262.4 L314.0,1258.7 L319.0,1259.9 L329.0,1258.2 L337.7,1256.7 L346.5,1254.9 L360.0,1254.9 L370.0,1253.2 L382.5,1251.7 L395.0,1249.2 L407.6,1248.7 L420.1,1247.9 L430.1,1246.7 L442.6,1248.2 L455.1,1246.9 L470.1,1247.9 L480.1,1249.4 L495.1,1249.2 L505.1,1250.4 L515.2,1253.2 L525.2,1253.7 L532.7,1256.7 L542.7,1256.7 L552.7,1259.9 L562.7,1264.9 L570.2,1267.9 L580.2,1270.7 L591.9,1272.3 L603.1,1274.7 L616.2,1280.3 L629.4,1285.0 L640.6,1289.7 L653.7,1293.5 L665.0,1296.3 L676.2,1300.0 L687.5,1303.8 L700.6,1308.5 L710.0,1310.3 L719.3,1313.1 L728.7,1316.0 L738.1,1320.6 L747.4,1324.4 L761.2,1330.8 L772.5,1337.1 L785.1,1340.7 L796.4,1343.5 L806.2,1344.9 L817.5,1347.7 L828.7,1349.8 L840.0,1350.5 L851.2,1351.9 L862.5,1352.6 L876.5,1354.0 L890.0,1354.8 L904.1,1355.2 L918.1,1355.5 L932.2,1356.2 L946.2,1356.9 L960.3,1357.6 L974.4,1358.3 L988.4,1359.4 L1002.5,1360.4 L1016.5,1362.5 L1027.8,1365.1 L1036.0,1370.0" fill="none" stroke="#9467bd" stroke-width="4.17" stroke-linejoin="round" stroke-linecap="square"/>
<path d="M92.0,818.0 L95.5,819.8 L100.0,915.6 L105.0,913.1 L110.0,926.1 L119.5,933.1 L125.0,926.6 L133.8,921.6 L138.8,929.9 L143.1,950.6 L148.1,955.6 L152.6,974.9 L157.6,970.7 L161.3,971.2 L166.3,982.4 L171.3,988.7 L181.3,996.7 L185.1,997.4 L190.6,992.9 L195.1,999.9 L200.1,1011.2 L208.9,1071.0 L213.9,1108.5 L220.1,1126.0 L223.9,1146.1 L227.6,1157.3 L233.9,1167.3 L238.9,1175.6 L247.7,1179.9 L255.2,1188.6 L262.7,1196.6 L271.4,1206.1 L277.7,1209.9 L282.7,1215.6 L293.9,1220.6 L299.0,1219.1 L305.2,1221.1 L322.7,1221.9 L331.5,1221.1 L337.7,1222.4 L342.7,1227.4 L347.7,1229.4 L352.5,1232.4 L360.0,1234.9 L372.5,1236.2 L382.5,1242.4 L392.5,1248.2 L402.6,1249.2 L411.3,1252.4 L427.6,1252.4 L435.1,1255.4 L447.6,1256.7 L458.9,1259.9 L467.6,1265.7 L475.1,1269.9 L481.4,1274.9 L492.6,1277.4 L505.1,1280.7 L520.2,1283.2 L535.2,1285.0 L545.2,1286.7 L557.7,1288.2 L567.5,1290.7 L575.0,1293.8 L588.1,1295.3 L601.2,1298.2 L616.2,1300.0 L627.5,1302.5 L640.6,1303.8 L653.7,1303.8 L665.0,1304.3 L680.0,1305.6 L695.0,1307.0 L708.1,1307.5 L715.6,1308.8 L723.1,1310.3 L732.4,1310.3 L743.7,1310.0 L750.0,1310.4 L757.0,1310.9 L764.1,1311.8 L771.1,1314.7 L778.1,1315.4 L789.4,1318.2 L802.0,1321.0 L813.3,1323.1 L823.1,1324.5 L834.4,1325.9 L848.4,1327.7 L862.5,1329.4 L876.5,1330.6 L893.0,1331.4 L911.1,1333.0 L926.6,1335.8 L946.2,1337.0 L960.3,1338.6 L974.4,1340.8 L981.4,1342.6 L994.0,1343.6 L1002.5,1346.0 L1009.5,1349.5 L1016.5,1352.7 L1022.2,1356.9 L1027.8,1359.7 L1032.0,1363.9 L1036.0,1370.5" fill="none" stroke="#2ca02c" stroke-width="4.17" stroke-linejoin="round" stroke-linecap="square"/>
<path d="M91.0,818.0 L555.0,818.0 L560.6,819.4 L566.2,826.0 L572.8,837.2 L577.5,845.7 L581.2,853.2 L589.7,860.7 L594.4,874.7 L598.1,893.5 L600.0,902.8 L604.7,919.7 L607.5,932.8 L611.2,949.7 L615.0,968.5 L618.7,990.9 L622.2,1016.9 L626.8,1046.9 L632.5,1067.5 L636.2,1088.1 L640.0,1106.8 L645.6,1135.0 L651.2,1150.0 L658.7,1165.0 L662.2,1180.0 L666.8,1191.2 L672.5,1200.6 L680.0,1215.6 L687.5,1230.6 L693.1,1245.6 L698.7,1262.5 L708.1,1271.8 L717.5,1279.3 L726.8,1285.9 L736.2,1292.5 L745.6,1299.0 L750.0,1302.0 L760.0,1308.0 L771.1,1314.6 L785.1,1320.3 L799.2,1325.5 L813.3,1329.4 L827.3,1333.6 L841.4,1337.1 L855.4,1340.7 L869.5,1344.9 L883.6,1347.7 L890.0,1348.5 L904.1,1350.6 L918.1,1353.4 L932.2,1356.2 L946.2,1358.3 L960.3,1360.4 L974.4,1362.5 L988.4,1364.6 L1002.5,1366.8 L1016.5,1368.9 L1030.6,1371.0 L1036.0,1372.5" fill="none" stroke="#1f77b4" stroke-width="4.17" stroke-linejoin="round" stroke-linecap="square"/>
<path d="M91.0,818.0 L405.1,819.0 L422.6,820.5 L435.1,822.3 L445.1,826.0 L452.6,828.5 L460.1,834.8 L467.6,839.0 L475.1,840.5 L481.4,846.0 L487.6,852.3 L497.6,859.8 L505.1,866.0 L511.4,874.8 L515.2,883.6 L520.2,897.3 L525.2,906.1 L531.4,918.6 L537.7,927.4 L543.0,934.0 L547.0,940.0 L549.8,950.0 L553.5,964.7 L557.5,977.0 L562.0,991.0 L565.5,1004.5 L568.7,1022.5 L572.5,1046.9 L576.2,1073.1 L580.0,1093.7 L583.7,1114.3 L586.5,1135.0 L589.4,1155.6 L593.1,1178.1 L597.5,1193.1 L600.3,1208.1 L605.0,1225.0 L610.6,1240.0 L616.2,1255.0 L621.9,1268.1 L627.5,1285.0 L633.1,1296.2 L640.6,1307.5 L648.1,1314.0 L657.5,1317.8 L666.8,1320.6 L678.1,1324.3 L691.2,1328.1 L702.5,1330.9 L715.6,1332.8 L728.7,1336.0 L739.9,1337.8 L750.0,1339.3 L764.1,1340.0 L778.1,1342.1 L792.2,1343.5 L806.2,1344.9 L820.3,1346.6 L834.4,1347.7 L848.4,1349.1 L862.5,1351.2 L876.5,1353.0 L890.0,1354.1 L904.1,1355.5 L918.1,1357.6 L932.2,1359.0 L946.2,1360.4 L960.3,1361.4 L974.4,1362.8 L988.4,1364.2 L1002.5,1366.1 L1016.5,1368.4 L1030.6,1370.3 L1036.0,1371.9" fill="none" stroke="#ff7f0e" stroke-width="4.17" stroke-linejoin="round" stroke-linecap="butt" stroke-dasharray="15.4 6.7"/>
<path d="M91.0,818.0 L487.6,818.0 L500.1,819.5 L512.7,820.5 L522.7,822.5 L532.7,826.0 L540.0,828.8 L545.6,831.6 L551.2,838.2 L558.7,848.5 L564.4,857.9 L569.1,866.3 L572.8,876.6 L576.6,889.7 L580.3,902.8 L583.1,917.8 L585.9,938.5 L588.7,959.1 L591.5,976.0 L594.4,992.8 L596.2,1007.8 L597.8,1018.7 L602.5,1052.5 L606.2,1075.0 L610.0,1093.7 L612.8,1108.7 L615.6,1131.2 L619.3,1159.3 L623.7,1180.0 L626.5,1191.2 L629.4,1202.5 L632.2,1217.5 L635.0,1230.6 L638.7,1241.9 L644.3,1253.1 L651.8,1264.3 L657.5,1272.8 L665.0,1281.2 L672.5,1288.7 L681.8,1293.4 L691.2,1298.1 L700.6,1303.7 L710.0,1307.5 L721.2,1310.3 L732.4,1313.5 L743.7,1317.8 L750.0,1319.6 L764.1,1323.8 L776.7,1325.9 L786.6,1328.7 L799.2,1332.9 L809.0,1334.3 L818.9,1335.7 L828.7,1337.6 L841.4,1340.0 L852.6,1342.1 L862.5,1343.5 L873.7,1345.6 L885.0,1347.7 L890.0,1348.0 L904.1,1351.3 L918.1,1354.1 L932.2,1356.9 L946.2,1359.0 L960.3,1360.9 L974.4,1362.5 L988.4,1364.2 L1002.5,1366.1 L1016.5,1368.9 L1030.6,1371.0 L1036.0,1372.3" fill="none" stroke="#d62728" stroke-width="4.17" stroke-linejoin="round" stroke-linecap="butt" stroke-dasharray="26.7 6.7 4.2 6.7"/>
</g>
<rect x="91.0" y="818.0" width="945.0" height="621.0" fill="none" stroke="#000" stroke-width="1.67" stroke-linejoin="miter"/>
<g stroke="#000" stroke-width="1.67"><line x1="91.00" y1="1439.0" x2="91.00" y2="1446.2"/><line x1="83.8" y1="1439.00" x2="91.0" y2="1439.00"/><line x1="280.00" y1="1439.0" x2="280.00" y2="1446.2"/><line x1="83.8" y1="1315.00" x2="91.0" y2="1315.00"/><line x1="469.00" y1="1439.0" x2="469.00" y2="1446.2"/><line x1="83.8" y1="1190.00" x2="91.0" y2="1190.00"/><line x1="658.00" y1="1439.0" x2="658.00" y2="1446.2"/><line x1="83.8" y1="1066.00" x2="91.0" y2="1066.00"/><line x1="847.00" y1="1439.0" x2="847.00" y2="1446.2"/><line x1="83.8" y1="942.00" x2="91.0" y2="942.00"/><line x1="1036.00" y1="1439.0" x2="1036.00" y2="1446.2"/><line x1="83.8" y1="818.00" x2="91.0" y2="818.00"/></g>
<text x="75.20" y="1469.20" font-size="22.8" textLength="31.70" lengthAdjust="spacingAndGlyphs">0.0</text>
<text x="44.21" y="1447.10" font-size="22.8" textLength="31.70" lengthAdjust="spacingAndGlyphs">0.0</text>
<text x="264.37" y="1469.20" font-size="22.8" textLength="31.70" lengthAdjust="spacingAndGlyphs">0.2</text>
<text x="44.55" y="1322.90" font-size="22.8" textLength="31.70" lengthAdjust="spacingAndGlyphs">0.2</text>
<text x="453.14" y="1469.20" font-size="22.8" textLength="31.70" lengthAdjust="spacingAndGlyphs">0.4</text>
<text x="44.09" y="1198.70" font-size="22.8" textLength="31.70" lengthAdjust="spacingAndGlyphs">0.4</text>
<text x="642.25" y="1469.20" font-size="22.8" textLength="31.70" lengthAdjust="spacingAndGlyphs">0.6</text>
<text x="44.32" y="1074.50" font-size="22.8" textLength="31.70" lengthAdjust="spacingAndGlyphs">0.6</text>
<text x="831.25" y="1469.20" font-size="22.8" textLength="31.70" lengthAdjust="spacingAndGlyphs">0.8</text>
<text x="44.32" y="950.30" font-size="22.8" textLength="31.70" lengthAdjust="spacingAndGlyphs">0.8</text>
<text x="1019.80" y="1469.20" font-size="22.8" textLength="31.70" lengthAdjust="spacingAndGlyphs">1.0</text>
<text x="44.21" y="826.10" font-size="22.8" textLength="31.70" lengthAdjust="spacingAndGlyphs">1.0</text>
<text x="563.0" y="1498.0" font-size="22.2" text-anchor="middle">Recall</text>
<text x="0" y="0" font-size="22.2" text-anchor="middle" transform="translate(31.8 1131.5) rotate(-90)">Precision</text>
<rect x="701.0" y="96.2" width="326.0" height="256.7" rx="3.3" fill="#fff" fill-opacity="0.8" stroke="#ccc" stroke-opacity="0.8" stroke-width="1.67"/>
<line x1="708.9" y1="124.90" x2="746.1" y2="124.90" stroke="#9467bd" stroke-width="4.17" stroke-linecap="square"/>
<text x="760.72" y="118.95" font-size="18.8" textLength="143.12" lengthAdjust="spacingAndGlyphs">Isolation Forest</text>
<text x="761.31" y="140.40" font-size="18.8" textLength="192.40" lengthAdjust="spacingAndGlyphs">(AUC=0.216±0.005)</text>
<line x1="708.9" y1="175.15" x2="746.1" y2="175.15" stroke="#2ca02c" stroke-width="4.17" stroke-linecap="square"/>
<text x="761.72" y="169.20" font-size="18.8" textLength="140.11" lengthAdjust="spacingAndGlyphs">One-Class SVM</text>
<text x="761.31" y="190.65" font-size="18.8" textLength="192.40" lengthAdjust="spacingAndGlyphs">(AUC=0.314±0.026)</text>
<line x1="708.9" y1="225.40" x2="746.1" y2="225.40" stroke="#1f77b4" stroke-width="4.17" stroke-linecap="square"/>
<text x="760.98" y="219.45" font-size="18.8" textLength="209.71" lengthAdjust="spacingAndGlyphs">DeepSAD LeNet — 0/0</text>
<text x="761.31" y="240.90" font-size="18.8" textLength="192.40" lengthAdjust="spacingAndGlyphs">(AUC=0.664±0.036)</text>
<line x1="708.9" y1="275.65" x2="746.1" y2="275.65" stroke="#ff7f0e" stroke-width="4.17" stroke-dasharray="15.4 6.7"/>
<text x="760.96" y="269.70" font-size="18.8" textLength="234.18" lengthAdjust="spacingAndGlyphs">DeepSAD LeNet — 50/10</text>
<text x="761.31" y="291.15" font-size="18.8" textLength="192.40" lengthAdjust="spacingAndGlyphs">(AUC=0.569±0.075)</text>
<line x1="708.9" y1="325.90" x2="746.1" y2="325.90" stroke="#d62728" stroke-width="4.17" stroke-dasharray="26.7 6.7 4.2 6.7"/>
<text x="760.96" y="319.95" font-size="18.8" textLength="257.73" lengthAdjust="spacingAndGlyphs">DeepSAD LeNet — 500/100</text>
<text x="761.31" y="341.40" font-size="18.8" textLength="192.40" lengthAdjust="spacingAndGlyphs">(AUC=0.625±0.018)</text>
<rect x="680.0" y="827.2" width="347.0" height="256.70000000000005" rx="3.3" fill="#fff" fill-opacity="0.8" stroke="#ccc" stroke-opacity="0.8" stroke-width="1.67"/>
<line x1="687.2" y1="855.90" x2="724.4000000000001" y2="855.90" stroke="#9467bd" stroke-width="4.17" stroke-linecap="square"/>
<text x="739.93" y="849.95" font-size="18.8" textLength="142.41" lengthAdjust="spacingAndGlyphs">Isolation Forest</text>
<text x="740.51" y="871.40" font-size="18.8" textLength="191.09" lengthAdjust="spacingAndGlyphs">(AUC=0.216±0.005)</text>
<line x1="687.2" y1="906.15" x2="724.4000000000001" y2="906.15" stroke="#2ca02c" stroke-width="4.17" stroke-linecap="square"/>
<text x="740.92" y="900.20" font-size="18.8" textLength="139.71" lengthAdjust="spacingAndGlyphs">One-Class SVM</text>
<text x="740.51" y="921.65" font-size="18.8" textLength="191.09" lengthAdjust="spacingAndGlyphs">(AUC=0.314±0.026)</text>
<line x1="687.2" y1="956.40" x2="724.4000000000001" y2="956.40" stroke="#1f77b4" stroke-width="4.17" stroke-linecap="square"/>
<text x="740.15" y="950.45" font-size="18.8" textLength="231.47" lengthAdjust="spacingAndGlyphs">DeepSAD Efficient — 0/0</text>
<text x="740.51" y="971.90" font-size="18.8" textLength="191.09" lengthAdjust="spacingAndGlyphs">(AUC=0.650±0.021)</text>
<line x1="687.2" y1="1006.65" x2="724.4000000000001" y2="1006.65" stroke="#ff7f0e" stroke-width="4.17" stroke-dasharray="15.4 6.7"/>
<text x="740.14" y="1000.70" font-size="18.8" textLength="255.12" lengthAdjust="spacingAndGlyphs">DeepSAD Efficient — 50/10</text>
<text x="740.51" y="1022.15" font-size="18.8" textLength="191.09" lengthAdjust="spacingAndGlyphs">(AUC=0.582±0.010)</text>
<line x1="687.2" y1="1056.90" x2="724.4000000000001" y2="1056.90" stroke="#d62728" stroke-width="4.17" stroke-dasharray="26.7 6.7 4.2 6.7"/>
<text x="740.14" y="1050.95" font-size="18.8" textLength="279.08" lengthAdjust="spacingAndGlyphs">DeepSAD Efficient — 500/100</text>
<text x="740.50" y="1072.40" font-size="18.8" textLength="191.02" lengthAdjust="spacingAndGlyphs">(AUC=0.621±0.011)</text>
</svg>
</body></html>
